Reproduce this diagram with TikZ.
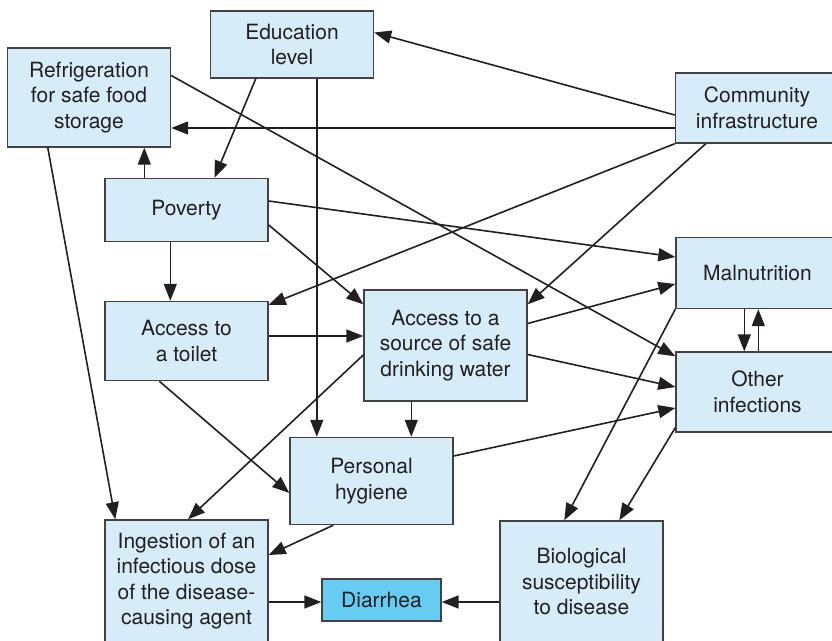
\documentclass[tikz,border=0pt]{standalone}
\usepackage{fontspec}
\setmainfont{TeX Gyre Heros}
\usetikzlibrary{arrows.meta,calc}
\definecolor{boxfill}{HTML}{D6EDF9}
\definecolor{outfill}{HTML}{66CCF2}
\definecolor{ink}{HTML}{231F20}

\begin{document}
\begin{tikzpicture}[x=0.5pt,y=-0.5pt,
  every node/.style={font=\fontsize{10.5}{12.75}\selectfont,text=ink},
  factor/.style={draw=ink!85,fill=boxfill,line width=0.7pt,align=center,inner sep=0pt,minimum width=81.5pt},
  cause/.style={draw=ink,line width=0.8pt,-{Triangle[length=8.5pt,width=6.5pt]}}]

  \useasboundingbox (0,0) rectangle (832,641);

  % factors
  \node[factor,minimum height=33.5pt] (edu)    at (292,44.5)   {Education\\level};
  \node[factor,minimum height=49.5pt] (fridge) at (89,97.5)    {Refrigeration\\for safe food\\storage};
  \node[factor,minimum height=35pt]   (comm)   at (757,108)    {Community\\infrastructure};
  \node[factor,minimum height=31.5pt] (pov)    at (186.5,210)  {Poverty};
  \node[factor,minimum height=35.5pt] (maln)   at (757.5,273)  {Malnutrition};
  \node[factor,minimum height=39.5pt] (toilet) at (186.5,341)  {Access to\\a toilet};
  \node[factor,minimum height=55.5pt] (water)  at (445.5,345.5) {Access to a\\source of safe\\drinking water};
  \node[factor,minimum height=40pt]   (other)  at (757.5,392)  {Other\\infections};
  \node[factor,minimum height=43.5pt] (hyg)    at (371.5,481)  {Personal\\hygiene};
  \node[factor,minimum height=61pt]   (ingest) at (186.5,581)  {Ingestion of an\\infectious dose\\of the disease-\\causing agent};
  \node[factor,fill=outfill,minimum width=59.5pt,minimum height=21pt] (diar) at (381.5,600) {Diarrhea};
  \node[factor,minimum height=61pt]   (bio)    at (581.5,582)  {Biological\\susceptibility\\to disease};

  % causal links
  \draw[cause] ($(comm.west)+(0,7)$) -- ($(edu.east)+(0,-12)$);
  \draw[cause] ($(comm.west)+(0,20)$) coordinate (c1) -- (c1 -| fridge.east);
  \draw[cause] (comm.south west) -- ($(toilet.north east)+(0,4)$);
  \draw[cause] ($(comm.south west)+(31,0)$) -- ($(water.north east)+(0,15)$);
  \draw[cause] ($(edu.south west)+(46,0)$) -- ($(pov.north)+(28,0)$);
  \draw[cause] ($(edu.south west)+(107,0)$) coordinate (e1) -- (e1 |- hyg.north);
  \draw[cause] ($(fridge.east)+(0,-22)$) -- ($(other.north west)+(0,5)$);
  \draw[cause] ($(fridge.south west)+(41,0)$) -- ($(ingest.north west)+(11,0)$);
  \draw[cause] ($(pov.north west)+(40,0)$) coordinate (p1) -- (p1 |- fridge.south);
  \draw[cause] ($(pov.east)+(0,-9)$) -- ($(maln.west)+(0,-16)$);
  \draw[cause] ($(pov.east)+(0,15)$) -- ($(water.north west)+(0,15)$);
  \draw[cause] ($(pov.south west)+(66,0)$) coordinate (p2) -- (p2 |- toilet.north);
  \draw[cause] ($(toilet.east)+(0,-5)$) coordinate (t1) -- (t1 -| water.west);
  \draw[cause] ($(toilet.south west)+(55,0)$) -- ($(hyg.west)+(0,12)$);
  \draw[cause] ($(water.east)+(0,-22)$) -- ($(maln.west)+(0,11)$);
  \draw[cause] ($(water.east)+(0,9)$) -- ($(other.west)+(0,-5)$);
  \draw[cause] ($(water.south west)+(48,0)$) coordinate (w1) -- (w1 |- hyg.north);
  \draw[cause] ($(water.west)+(0,9.5)$) -- ($(ingest.north)+(1.5,0)$);
  \draw[cause] ($(hyg.east)+(0,-25)$) -- ($(other.west)+(0,16)$);
  \draw[cause] ($(hyg.south west)+(44,0)$) -- ($(ingest.east)+(0,-26)$);
  \draw[cause] ($(maln.south west)+(69,0)$) coordinate (m1) -- (m1 |- other.north);
  \draw[cause] ($(other.north west)+(83,0)$) coordinate (o1) -- (o1 |- maln.south);
  \draw[cause] (maln.south west) -- ($(bio.north west)+(65,0)$);
  \draw[cause] ($(other.south west)+(0,-5)$) -- ($(bio.north west)+(120,0)$);
  \draw[cause] ($(ingest.east)+(0,21)$) coordinate (i1) -- (i1 -| diar.west);
  \draw[cause] ($(bio.west)+(0,20)$) coordinate (b1) -- (b1 -| diar.east);
\end{tikzpicture}
\end{document}
